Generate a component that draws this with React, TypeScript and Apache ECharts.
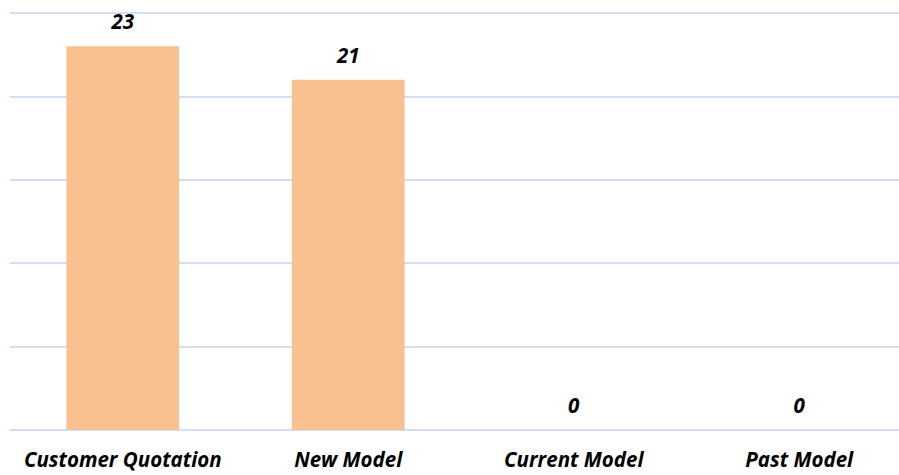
import React, { useEffect, useRef } from "react";
import * as echarts from "echarts";

const categories = ["Customer Quotation", "New Model", "Current Model", "Past Model"];
const counts = [23, 21, 0, 0];
const yTicks = [0, 5, 10, 15, 20, 25];

export default function App() {
  const ref = useRef<HTMLDivElement>(null);

  useEffect(() => {
    if (!ref.current) return;
    const chart = echarts.init(ref.current, null, { renderer: "svg" });
    const font = "'Open Sans', 'Liberation Sans', sans-serif";
    chart.setOption({
      animation: false,
      backgroundColor: "#ffffff",
      grid: { left: 10, right: 0, top: 13, bottom: 45, containLabel: false },
      xAxis: {
        type: "category",
        data: categories,
        axisLine: { show: true, lineStyle: { color: "#D3DEF1", width: 2 } },
        axisTick: { show: false },
        axisLabel: {
          interval: 0,
          margin: 19,
          color: "#000",
          fontFamily: font,
          fontSize: 20.5,
          fontStyle: "italic",
          fontWeight: "bold",
        },
      },
      yAxis: {
        type: "value",
        min: yTicks[0],
        max: yTicks[yTicks.length - 1],
        interval: 5,
        axisLabel: { show: false },
        axisLine: { show: false },
        axisTick: { show: false },
        splitLine: { lineStyle: { color: "#D3DEF1", width: 2 } },
      },
      series: [
        {
          type: "bar",
          data: counts,
          barWidth: "50%",
          itemStyle: { color: "#F9C18F" },
          label: {
            show: true,
            position: "top",
            distance: 15,
            color: "#000",
            fontFamily: font,
            fontSize: 20.5,
            fontStyle: "italic",
            fontWeight: "bold",
          },
        },
      ],
    });
    return () => chart.dispose();
  }, []);

  return (
    <div style={{ width: 899, height: 475, position: "absolute", left: 0, top: 0, overflow: "hidden" }}>
      <div ref={ref} style={{ width: 912, height: 475 }} />
    </div>
  );
}
